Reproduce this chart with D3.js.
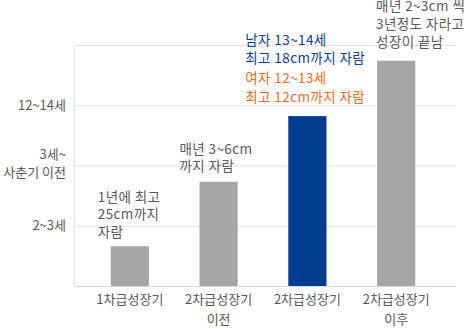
<!DOCTYPE html>
<html>
<head>
<meta charset="utf-8">
<script src="https://cdn.jsdelivr.net/npm/d3@7"></script>
<style>
  body { margin: 0; background: #fff; }
  text { font-family: "Noto Sans CJK KR", "Noto Sans", sans-serif; }
</style>
</head>
<body>
<div id="wrapper"></div>
<script>
// data
const categories = ['1차급성장기', '2차급성장기\n이전', '2차급성장기', '2차급성장기\n이후']
const values = [0.66, 1.73, 2.82, 3.74]
const barColors = ['#a6a6a6', '#a6a6a6', '#003d8f', '#a6a6a6']
const yTicks = [1, 2, 3, 4]
const yTickLabels = ['2~3세', '3세~\n사춘기 이전', '12~14세', '']
const notes = [
  [{text: '1년에 최고', c: '#595959'}, {text: '25cm까지', c: '#595959'}, {text: '자람', c: '#595959'}],
  [{text: '매년 3~6cm', c: '#595959'}, {text: '까지 자람', c: '#595959'}],
  [{text: '남자 13~14세', c: '#0b3d91'}, {text: '최고 18cm까지 자람', c: '#0b3d91'},
   {text: '여자 12~13세', c: '#f26a21'}, {text: '최고 12cm까지 자람', c: '#f26a21'}],
  [{text: '매년 2~3cm 씩', c: '#595959'}, {text: '3년정도 자라고', c: '#595959'}, {text: '성장이 끝남', c: '#595959'}]
]

function drawChart() {
  const dimensions = {
    width: 467,
    height: 329,
    margin: {top: 45, right: 11, bottom: 43, left: 74}
  }
  dimensions.boundedWidth = dimensions.width - dimensions.margin.left - dimensions.margin.right
  dimensions.boundedHeight = dimensions.height - dimensions.margin.top - dimensions.margin.bottom

  const svg = d3.select('#wrapper')
    .append('svg')
      .attr('width', dimensions.width)
      .attr('height', dimensions.height)

  const bounds = svg.append('g')
    .attr('transform', `translate(${dimensions.margin.left},${dimensions.margin.top})`)

  // scales
  const xScale = d3.scaleBand()
    .domain(categories)
    .range([11, 367])
    .paddingInner(0.57)
    .paddingOuter(0.29)

  const yScale = d3.scaleLinear()
    .domain([0, 4])
    .range([dimensions.boundedHeight, 0])

  // gridlines
  bounds.append('g')
    .selectAll('line')
    .data(yTicks)
    .join('line')
      .attr('x1', 0)
      .attr('x2', dimensions.boundedWidth)
      .attr('y1', d => yScale(d) + 0.5)
      .attr('y2', d => yScale(d) + 0.5)
      .attr('stroke', '#e3e3e3')
      .attr('stroke-width', 1)

  // left axis line
  bounds.append('line')
    .attr('x1', 0.5).attr('x2', 0.5)
    .attr('y1', 0).attr('y2', dimensions.boundedHeight)
    .attr('stroke', '#e3e3e3')

  // baseline
  bounds.append('line')
    .attr('x1', 0).attr('x2', dimensions.boundedWidth)
    .attr('y1', dimensions.boundedHeight + 0.5).attr('y2', dimensions.boundedHeight + 0.5)
    .attr('stroke', '#d9d9d9')

  // bars
  bounds.append('g')
    .selectAll('rect')
    .data(values)
    .join('rect')
      .attr('x', (d, i) => xScale(categories[i]))
      .attr('y', d => yScale(d))
      .attr('width', xScale.bandwidth())
      .attr('height', d => dimensions.boundedHeight - yScale(d))
      .attr('fill', (d, i) => barColors[i])

  // y tick labels
  const yLabels = bounds.append('g')
    .selectAll('text')
    .data(yTicks)
    .join('text')
      .attr('text-anchor', 'end')
      .attr('fill', '#595959')
      .style('font-size', '13px')
      .attr('transform', d => `translate(-8,${yScale(d)})`)
  yLabels.each(function (d, i) {
    const lines = yTickLabels[i].split('\n').filter(l => l)
    const start = lines.length > 1 ? -11 : 0
    d3.select(this).selectAll('tspan')
      .data(lines)
      .join('tspan')
        .attr('x', 0)
        .attr('y', (l, j) => start + j * 18)
        .attr('dy', '0.35em')
        .text(l => l)
  })

  // x labels
  const xLabels = bounds.append('g')
    .selectAll('text')
    .data(categories)
    .join('text')
      .attr('text-anchor', 'middle')
      .attr('fill', '#595959')
      .style('font-size', '13px')
      .attr('transform', d => `translate(${xScale(d) + xScale.bandwidth() / 2},${dimensions.boundedHeight + 13})`)
  xLabels.each(function (d) {
    d3.select(this).selectAll('tspan')
      .data(d.split('\n'))
      .join('tspan')
        .attr('x', 0)
        .attr('y', (l, j) => j * 20)
        .attr('dy', '0.35em')
        .text(l => l)
  })

  // annotations above bars
  const noteOffsetX = [-13, -20, -43, -1]
  const noteTop = [-49, -33, -76, -54]
  const noteRows = [[0, 17, 35], [0, 18], [0, 18, 38, 57], [0, 18, 36]]
  bounds.append('g')
    .selectAll('g')
    .data(notes)
    .join('g')
      .attr('transform', (d, i) => `translate(${xScale(categories[i]) + noteOffsetX[i]},${yScale(values[i]) + noteTop[i]})`)
    .each(function (d, i) {
      d3.select(this).selectAll('text')
        .data(d)
        .join('text')
          .attr('x', 0)
          .attr('y', (l, j) => noteRows[i][j])
          .attr('dy', '0.35em')
          .attr('fill', l => l.c)
          .style('font-size', '13.5px')
          .style('letter-spacing', '0.4px')
          .text(l => l.text)
    })
}
drawChart()
</script>
</body>
</html>
